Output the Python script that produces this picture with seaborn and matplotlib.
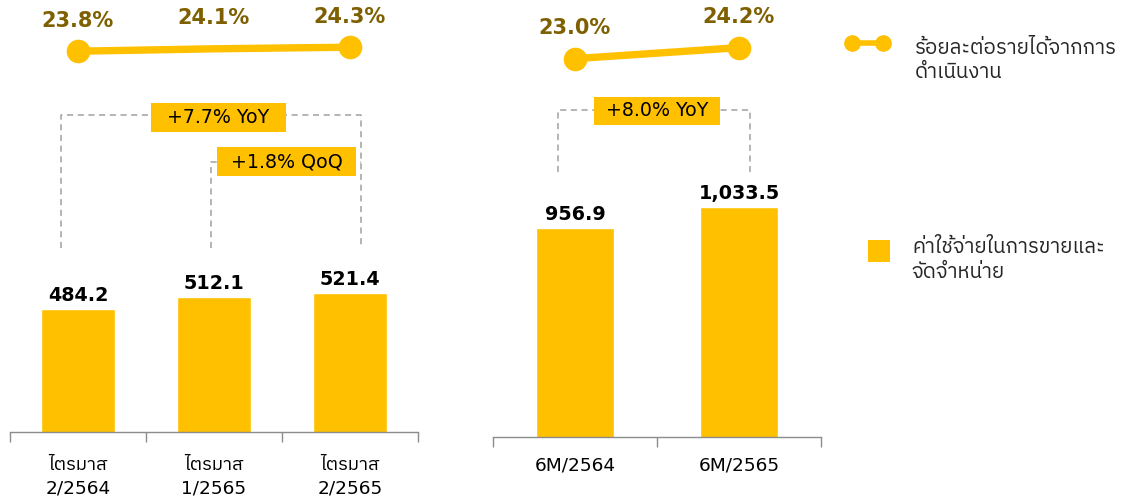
import matplotlib
matplotlib.use("Agg")
import matplotlib.pyplot as plt
import seaborn as sns
import pandas as pd
from matplotlib import font_manager as fm
from matplotlib.ft2font import FT2Font
from matplotlib.lines import Line2D
from matplotlib.patches import Rectangle

# ---------------- data ----------------
q_categories = ["ไตรมาส\n2/2564", "ไตรมาส\n1/2565", "ไตรมาส\n2/2565"]
q_expenses = [484.2, 512.1, 521.4]
q_ratio = [23.8, 24.1, 24.3]
h_categories = ["6M/2564", "6M/2565"]
h_expenses = [956.9, 1033.5]
h_ratio = [23.0, 24.2]
q_yoy_label = "+7.7% YoY"
q_qoq_label = "+1.8% QoQ"
h_yoy_label = "+8.0% YoY"
legend_line_label = "ร้อยละต่อรายได้จากการ\nดำเนินงาน"
legend_bar_label = "ค่าใช้จ่ายในการขายและ\nจัดจำหน่าย"

# ---------------- fonts ----------------
sns.set_theme(style="white")
thai_font = None
for f in fm.fontManager.ttflist:
    try:
        cm = FT2Font(f.fname).get_charmap()
    except Exception:
        continue
    if 0x0E44 in cm and 0x0E23 in cm and 0x0E32 in cm:
        thai_font = f.name
        if "sans" in f.name.lower():
            break
families = ["DejaVu Sans"] + ([thai_font] if thai_font else [])
plt.rcParams["font.family"] = families

GOLD = "#FFC000"
DARK = "#7F6000"
GRAY = "#A0A0A0"
W, H = 1128, 500
fig = plt.figure(figsize=(W / 100, H / 100), dpi=100)


def make_panel(left_px, base_px, width_px, cats, vals, ratios, ylim, ylim2, pad):
    ax = fig.add_axes([left_px / W, (H - base_px) / H, width_px / W, base_px / H])
    df = pd.DataFrame({"cat": cats, "val": vals})
    sns.barplot(data=df, x="cat", y="val", color=GOLD, saturation=1,
                width=0.55 if len(cats) == 3 else 0.47, ax=ax, zorder=2)
    ax.set_xlim(-0.5, len(cats) - 0.5)
    ax.set_ylim(*ylim)
    for s in ["left", "right", "top"]:
        ax.spines[s].set_visible(False)
    ax.spines["bottom"].set_color("#8C8C8C")
    ax.spines["bottom"].set_linewidth(1.0)
    ax.set_yticks([])
    ax.set_xlabel("")
    ax.set_ylabel("")
    ax.set_xticks(range(len(cats)))
    ax.set_xticklabels(cats, fontsize=13.3, color="black", linespacing=1.4)
    ax.tick_params(axis="x", which="major", length=0, pad=pad)
    ax.set_xticks([i - 0.5 for i in range(len(cats) + 1)], minor=True)
    ax.tick_params(axis="x", which="minor", length=7, width=1, color="#8C8C8C",
                   direction="out", bottom=True)
    for i, v in enumerate(vals):
        ax.annotate(f"{v:,.1f}", (i, v), xytext=(0, 3), textcoords="offset points",
                    ha="center", va="bottom", fontsize=13.8, fontweight="bold",
                    color="black")
    ax2 = ax.twinx()
    ldf = pd.DataFrame({"x": list(range(len(ratios))), "r": ratios})
    sns.lineplot(data=ldf, x="x", y="r", ax=ax2, color=GOLD, linewidth=5.3,
                 marker="o", markersize=17, markeredgewidth=0,
                 markevery=[0, len(ratios) - 1], solid_capstyle="butt")
    ax2.set_ylim(*ylim2)
    ax2.set_xlim(-0.5, len(cats) - 0.5)
    ax2.axis("off")
    for i, r in enumerate(ratios):
        ax2.annotate(f"{r:.1f}%", (i, r), xytext=(0, 22), textcoords="offset points",
                     ha="center", va="center", fontsize=15, fontweight="bold",
                     color=DARK)
    return ax, ax2


def bracket(ax, x0, x1, y0, y1, left=True, right=True):
    xs, ys = [], []
    if left:
        xs += [x0, x0]
        ys += [y0, y1]
    else:
        xs += [x0]
        ys += [y1]
    xs += [x1]
    ys += [y1]
    if right:
        xs += [x1]
        ys += [y0]
    ax.plot(xs, ys, color=GRAY, lw=1.1, ls=(0, (4, 3)), zorder=1, clip_on=False)


def label_box(ax, x0, x1, y0, y1, text):
    ax.add_patch(Rectangle((x0, y0), x1 - x0, y1 - y0, facecolor=GOLD,
                           edgecolor="none", zorder=3, clip_on=False))
    ax.text((x0 + x1) / 2, (y0 + y1) / 2, text, ha="center", va="center",
            fontsize=13.7, color="black", zorder=4)


# left panel
axL, axL2 = make_panel(10, 432, 408, q_categories, q_expenses, q_ratio,
                       (198, 1203), (-23.8, 30.2), pad=17)
bracket(axL, -0.125, 2.08, 626, 935)
bracket(axL, 0.978, 2.08, 626, 826, right=False)
label_box(axL, 0.537, 1.529, 896, 963, q_yoy_label)
label_box(axL, 1.022, 2.044, 793, 861, q_qoq_label)

# right panel
axR, axR2 = make_panel(493, 437, 328, h_categories, h_expenses, h_ratio,
                       (194, 1789), (-18.3, 29.4), pad=14)
bracket(axR, -0.104, 1.067, 1161, 1387)
label_box(axR, 0.116, 0.884, 1333, 1435, h_yoy_label)

# legends
line_handle = Line2D([], [], color=GOLD, lw=4, marker="o", markersize=12,
                     markeredgewidth=0)
bar_handle = Line2D([], [], color=GOLD, lw=0, marker="s", markersize=15.5,
                    markeredgewidth=0)
LFS = 14.8
leg1 = fig.legend([line_handle], [legend_line_label], loc="upper left",
                  bbox_to_anchor=(846 / W, 1 - 19 / H), frameon=False,
                  fontsize=LFS, numpoints=2, handlelength=2.1, handletextpad=1.25,
                  handleheight=6.3, borderpad=0, borderaxespad=0)
leg2 = fig.legend([bar_handle], [legend_bar_label], loc="upper left",
                  bbox_to_anchor=(868 / W, 1 - 234 / H), frameon=False,
                  fontsize=LFS, numpoints=1, handlelength=1.05, handletextpad=1.09,
                  handleheight=3.8, borderpad=0, borderaxespad=0)
for lg in (leg1, leg2):
    for t in lg.get_texts():
        t.set_linespacing(1.3)

fig.savefig("out.png", dpi=100)
